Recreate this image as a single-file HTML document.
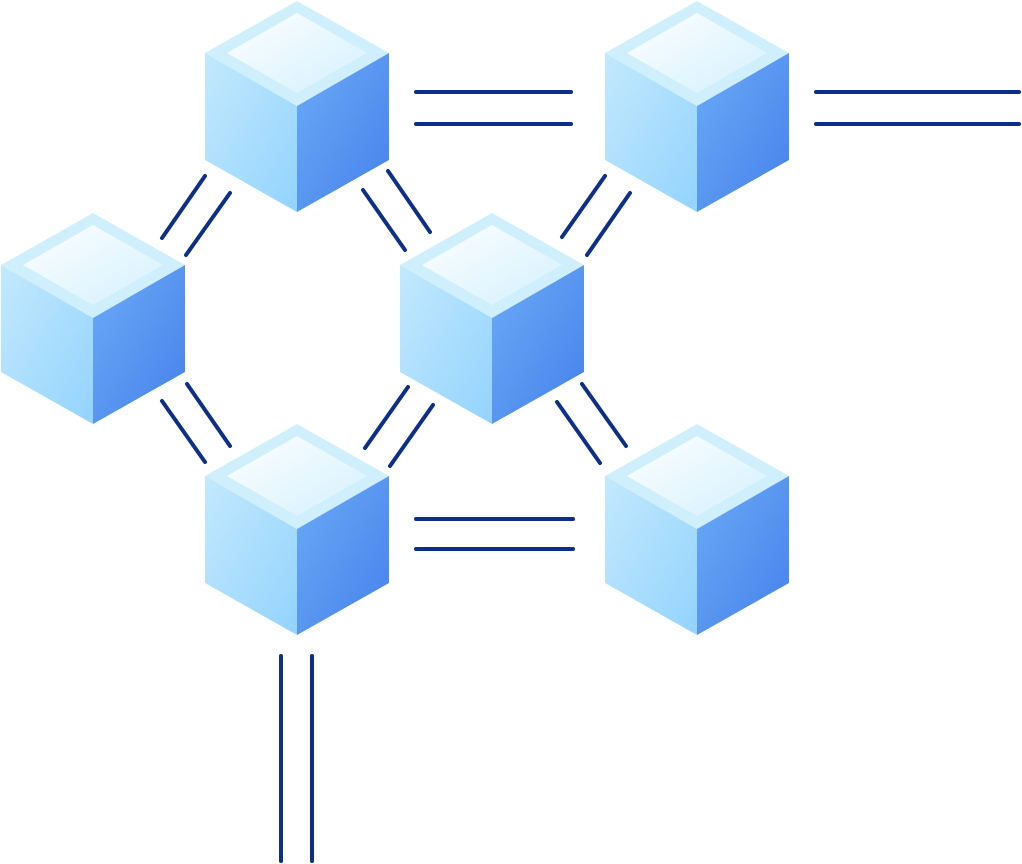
<!DOCTYPE html>
<html><head><style>html,body{margin:0;padding:0;background:#fff;}svg{display:block}</style></head>
<body>
<svg width="1022" height="864" viewBox="0 0 1022 864" xmlns="http://www.w3.org/2000/svg">
<defs>
<linearGradient id="gl" x1="0" y1="0" x2="1" y2="1"><stop offset="0" stop-color="#c3e9fd"/><stop offset="1" stop-color="#93d3fd"/></linearGradient>
<linearGradient id="gr" x1="0" y1="0" x2="1" y2="1"><stop offset="0" stop-color="#6aabf7"/><stop offset="1" stop-color="#4681ea"/></linearGradient>
<linearGradient id="gt" x1="0" y1="0" x2="1" y2="1"><stop offset="0" stop-color="#ffffff"/><stop offset="1" stop-color="#d2f0fd"/></linearGradient>
<g id="cube">
<polygon points="0,0 92,52 0,105 -92,52" fill="#d0effd"/>
<polygon points="0,12 70,52 0,92 -70,52" fill="url(#gt)"/>
<polygon points="-92,52 0,105 0,211 -92,159" fill="url(#gl)"/>
<polygon points="92,52 0,105 0,211 92,159" fill="url(#gr)"/>
</g>
</defs>
<use href="#cube" x="297" y="1"/>
<use href="#cube" x="697" y="1"/>
<use href="#cube" x="93" y="213"/>
<use href="#cube" x="492" y="213"/>
<use href="#cube" x="297" y="424"/>
<use href="#cube" x="697" y="424"/>
<g stroke="#0d2f8a" stroke-width="4" stroke-linecap="round" fill="none">
<line x1="416" y1="92" x2="571" y2="92"/><line x1="416" y1="124" x2="571" y2="124"/>
<line x1="816" y1="92" x2="1019" y2="92"/><line x1="816" y1="124" x2="1019" y2="124"/>
<line x1="416" y1="519" x2="573" y2="519"/><line x1="416" y1="549" x2="573" y2="549"/>
<line x1="281" y1="656" x2="281" y2="861"/><line x1="312" y1="656" x2="312" y2="861"/>
<line x1="162" y1="238" x2="205" y2="176"/><line x1="186" y1="255" x2="230" y2="193"/>
<line x1="363" y1="190" x2="405" y2="250"/><line x1="388" y1="171" x2="430" y2="232"/>
<line x1="562" y1="237" x2="605" y2="176"/><line x1="587" y1="255" x2="630" y2="193"/>
<line x1="162" y1="401" x2="205" y2="462"/><line x1="187" y1="384" x2="230" y2="446"/>
<line x1="365" y1="448" x2="408" y2="387"/><line x1="390" y1="466" x2="433" y2="405"/>
<line x1="557" y1="402" x2="600" y2="463"/><line x1="582" y1="384" x2="626" y2="446"/>
</g>
</svg>
</body></html>
